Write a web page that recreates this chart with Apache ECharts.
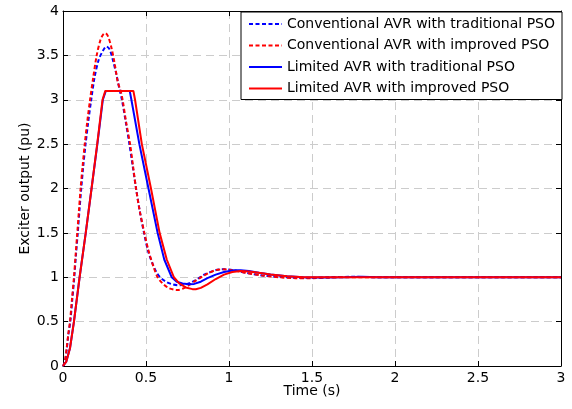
<!DOCTYPE html>
<html>
<head>
<meta charset="utf-8">
<script src="https://cdn.jsdelivr.net/npm/echarts@6/dist/echarts.min.js"></script>
<style>
html,body{margin:0;padding:0;background:#fff;}
#c{width:572px;height:409px;}
</style>
</head>
<body>
<div id="c"></div>
<script>
// ---- data ----
const seriesNames = [
  'Conventional AVR with traditional PSO',
  'Conventional AVR with improved PSO',
  'Limited AVR with traditional PSO',
  'Limited AVR with improved PSO'
];
const xTicks = [0, 0.5, 1, 1.5, 2, 2.5, 3];
const yTicks = [0, 0.5, 1, 1.5, 2, 2.5, 3, 3.5, 4];

// Conventional AVR, traditional PSO (blue dashed)
const tConvTrad = [0, 0.01, 0.022, 0.032, 0.044, 0.056, 0.068, 0.078, 0.089, 0.099, 0.11, 0.122, 0.136, 0.152, 0.17, 0.19, 0.215, 0.24, 0.262, 0.28, 0.30, 0.32, 0.34, 0.355, 0.378, 0.40, 0.42, 0.44, 0.462, 0.488, 0.512, 0.54, 0.565, 0.585, 0.62, 0.66, 0.70, 0.73, 0.77, 0.81, 0.85, 0.89, 0.93, 0.97, 1.01, 1.05, 1.10, 1.20, 1.30, 1.40, 1.50, 1.60, 1.75, 1.90, 3.0];
const vConvTrad = [0, 0.03, 0.18, 0.35, 0.5, 0.75, 1.0, 1.25, 1.5, 1.75, 2.0, 2.25, 2.5, 2.75, 3.0, 3.25, 3.45, 3.55, 3.6, 3.57, 3.45, 3.3, 3.12, 3.0, 2.75, 2.5, 2.25, 2.0, 1.75, 1.5, 1.3, 1.15, 1.05, 1.0, 0.95, 0.92, 0.91, 0.915, 0.94, 0.98, 1.03, 1.06, 1.085, 1.09, 1.085, 1.07, 1.05, 1.02, 1.005, 0.995, 0.995, 1.0, 1.005, 1.0, 1.0];

// Conventional AVR, improved PSO (red dashed)
const tConvImp = [0, 0.01, 0.022, 0.032, 0.042, 0.054, 0.066, 0.076, 0.086, 0.096, 0.106, 0.118, 0.131, 0.146, 0.163, 0.182, 0.203, 0.225, 0.24, 0.255, 0.27, 0.29, 0.31, 0.33, 0.347, 0.359, 0.38, 0.404, 0.422, 0.44, 0.462, 0.49, 0.515, 0.545, 0.57, 0.60, 0.635, 0.67, 0.69, 0.72, 0.75, 0.79, 0.84, 0.88, 0.92, 0.96, 1.0, 1.05, 1.10, 1.20, 1.30, 1.40, 1.50, 1.60, 1.70, 2.0, 3.0];
const vConvImp = [0, 0.04, 0.2, 0.36, 0.5, 0.75, 1.0, 1.25, 1.5, 1.75, 2.0, 2.25, 2.5, 2.75, 3.0, 3.25, 3.5, 3.67, 3.73, 3.75, 3.72, 3.6, 3.42, 3.2, 3.1, 3.0, 2.75, 2.5, 2.25, 2.0, 1.75, 1.5, 1.3, 1.12, 1.0, 0.93, 0.88, 0.86, 0.856, 0.87, 0.9, 0.95, 1.01, 1.05, 1.08, 1.09, 1.085, 1.07, 1.05, 1.02, 1.0, 0.99, 0.99, 0.995, 1.0, 1.0, 1.0];

// Limited AVR, traditional PSO (blue solid)
const tLimTrad = [0, 0.02, 0.042, 0.066, 0.10, 0.137, 0.172, 0.207, 0.24, 0.258, 0.402, 0.412, 0.46, 0.515, 0.57, 0.61, 0.655, 0.685, 0.72, 0.76, 0.79, 0.83, 0.87, 0.92, 0.97, 1.03, 1.07, 1.12, 1.18, 1.25, 1.35, 1.45, 1.55, 1.70, 1.80, 1.90, 3.0];
const vLimTrad = [0, 0.05, 0.2, 0.5, 1.0, 1.5, 2.0, 2.5, 3.0, 3.1, 3.1, 3.0, 2.5, 2.0, 1.5, 1.2, 1.0, 0.95, 0.93, 0.92, 0.925, 0.95, 0.99, 1.03, 1.06, 1.08, 1.08, 1.07, 1.05, 1.03, 1.01, 1.0, 0.998, 1.0, 1.005, 1.0, 1.0];

// Limited AVR, improved PSO (red solid)
const tLimImp = [0, 0.02, 0.042, 0.066, 0.10, 0.137, 0.172, 0.206, 0.238, 0.255, 0.424, 0.434, 0.475, 0.53, 0.582, 0.625, 0.668, 0.70, 0.74, 0.78, 0.80, 0.83, 0.87, 0.92, 0.97, 1.02, 1.07, 1.12, 1.18, 1.25, 1.35, 1.45, 3.0];
const vLimImp = [0, 0.05, 0.2, 0.5, 1.0, 1.5, 2.0, 2.5, 3.0, 3.1, 3.1, 3.0, 2.5, 2.0, 1.5, 1.2, 1.0, 0.93, 0.885, 0.866, 0.865, 0.88, 0.92, 0.98, 1.03, 1.06, 1.07, 1.065, 1.05, 1.03, 1.01, 1.0, 1.0];

// ---- chart ----
const pair = (t, v) => t.map((x, i) => [x, v[i]]);
const FONT = 'DejaVu Sans, sans-serif';
const gridLine = {show: true, lineStyle: {color: '#cccccc', type: [8, 5], width: 1}};

const chart = echarts.init(document.getElementById('c'), null, {renderer: 'canvas'});
const mk = (name, data, color, dashed, smooth) => ({
  name, type: 'line', data, symbol: 'none', smooth: smooth, animation: false,
  xAxisIndex: 0, yAxisIndex: 0,
  lineStyle: {color, width: 2, type: dashed ? [4, 2.5] : 'solid'},
  itemStyle: {color}
});

chart.setOption({
  animation: false,
  textStyle: {fontFamily: FONT},
  grid: {left: 63, right: 11, top: 11, bottom: 43},
  legend: {
    orient: 'vertical', right: 10, top: 12,
    backgroundColor: '#fff', borderColor: '#000', borderWidth: 1, borderRadius: 0,
    padding: [5, 7, 4, 7], itemWidth: 33, itemHeight: 14, itemGap: 7.5,
    itemStyle: {opacity: 0},
    textStyle: {fontSize: 14, color: '#000', fontFamily: FONT},
    data: seriesNames.map(n => ({name: n}))
  },
  xAxis: [{
    type: 'value', min: xTicks[0], max: xTicks[xTicks.length - 1], interval: 0.5,
    name: 'Time (s)', nameLocation: 'middle', nameGap: 18, nameMoveOverlap: false,
    nameTextStyle: {fontSize: 14, color: '#000', fontFamily: FONT},
    axisLine: {show: true, lineStyle: {color: '#000', width: 1}},
    axisTick: {show: true, inside: true, length: 5, lineStyle: {color: '#000'}},
    axisLabel: {fontSize: 14, color: '#000', margin: 5, fontFamily: FONT},
    splitLine: gridLine
  }, {
    type: 'value', position: 'top', min: xTicks[0], max: xTicks[xTicks.length - 1], interval: 0.5,
    axisLine: {show: true, onZero: false, lineStyle: {color: '#000', width: 1}},
    axisTick: {show: true, inside: true, length: 5, lineStyle: {color: '#000'}},
    axisLabel: {show: false}, splitLine: {show: false}
  }],
  yAxis: [{
    type: 'value', min: yTicks[0], max: yTicks[yTicks.length - 1], interval: 0.5,
    name: 'Exciter output (pu)', nameLocation: 'middle', nameGap: 31, nameRotate: 90, nameMoveOverlap: false,
    nameTextStyle: {fontSize: 14, color: '#000', fontFamily: FONT},
    axisLine: {show: true, lineStyle: {color: '#000', width: 1}},
    axisTick: {show: true, inside: true, length: 5, lineStyle: {color: '#000'}},
    axisLabel: {fontSize: 14, color: '#000', margin: 4, fontFamily: FONT},
    splitLine: gridLine
  }, {
    type: 'value', position: 'right', min: yTicks[0], max: yTicks[yTicks.length - 1], interval: 0.5,
    axisLine: {show: true, onZero: false, lineStyle: {color: '#000', width: 1}},
    axisTick: {show: true, inside: true, length: 5, lineStyle: {color: '#000'}},
    axisLabel: {show: false}, splitLine: {show: false}
  }],
  series: [
    mk(seriesNames[0], pair(tConvTrad, vConvTrad), '#0000ff', true, 0.3),
    mk(seriesNames[1], pair(tConvImp, vConvImp), '#ff0000', true, 0.3),
    mk(seriesNames[2], pair(tLimTrad, vLimTrad), '#0000ff', false, false),
    mk(seriesNames[3], pair(tLimImp, vLimImp), '#ff0000', false, false)
  ]
});
</script>
</body>
</html>
